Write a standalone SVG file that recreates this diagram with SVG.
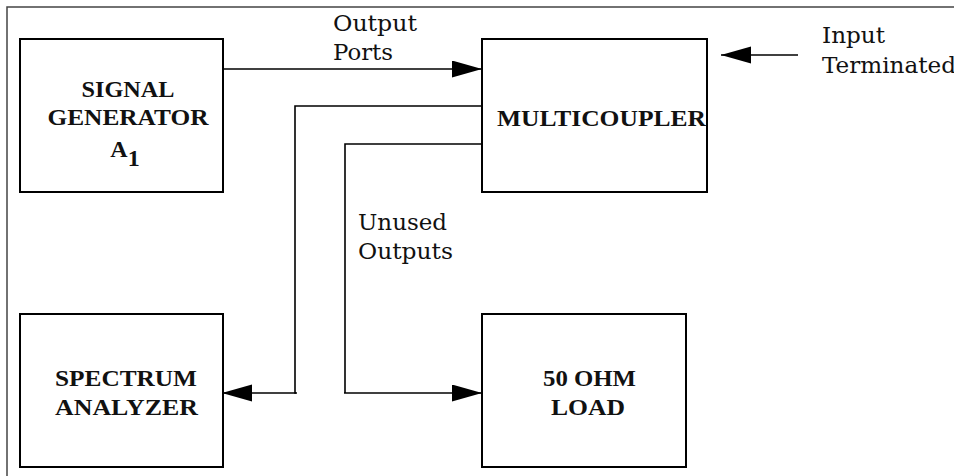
<svg xmlns="http://www.w3.org/2000/svg" width="954" height="476" viewBox="0 0 954 476">
<defs>
<style>
.box{fill:#fff;stroke:#000;stroke-width:2}
.lbl{font-family:"Liberation Serif","Times New Roman",serif;font-weight:bold;font-size:24px;fill:#111;text-anchor:middle}
.note{font-family:"DejaVu Serif","Liberation Serif",serif;font-size:22px;fill:#111}
.wire{fill:none;stroke:#000;stroke-width:1.6}
</style>
<marker id="ah" markerUnits="userSpaceOnUse" markerWidth="31" markerHeight="18" refX="30" refY="8.5" orient="auto">
<path d="M0,0 L30,8.5 L0,17 Z" fill="#000"/>
</marker>
</defs>
<rect width="954" height="476" fill="#fff"/>
<g id="frame">
<path d="M7,476 V7 H954" fill="none" stroke="#444" stroke-width="1.5"/>
</g>
<g id="connectors">
<line class="wire" x1="221" y1="69" x2="482" y2="69" marker-end="url(#ah)"/>
<line class="wire" x1="798" y1="55" x2="721" y2="55" marker-end="url(#ah)"/>
<polyline class="wire" points="485,106 295,106 295,393 297,393"/>
<line class="wire" x1="296" y1="393" x2="222" y2="393" marker-end="url(#ah)"/>
<polyline class="wire" points="485,144 345,144 345,393"/>
<line class="wire" x1="344" y1="393" x2="482" y2="393" marker-end="url(#ah)"/>
</g>
<g id="signal-generator">
<rect class="box" x="20" y="39" width="203" height="153"/>
<text class="lbl" x="128" y="97" textLength="93" lengthAdjust="spacingAndGlyphs">SIGNAL</text>
<text class="lbl" x="128" y="125" textLength="161" lengthAdjust="spacingAndGlyphs">GENERATOR</text>
<text class="lbl" x="125" y="157">A<tspan dy="9">1</tspan></text>
</g>
<g id="multicoupler">
<rect class="box" x="482" y="39" width="225" height="153"/>
<text class="lbl" x="601.5" y="126" textLength="209" lengthAdjust="spacingAndGlyphs">MULTICOUPLER</text>
</g>
<g id="spectrum-analyzer">
<rect class="box" x="20" y="314" width="203" height="153"/>
<text class="lbl" x="126" y="386" textLength="142" lengthAdjust="spacingAndGlyphs">SPECTRUM</text>
<text class="lbl" x="126.5" y="415" textLength="143" lengthAdjust="spacingAndGlyphs">ANALYZER</text>
</g>
<g id="load">
<rect class="box" x="482" y="314" width="204" height="153"/>
<text class="lbl" x="589.5" y="386" textLength="93" lengthAdjust="spacingAndGlyphs">50 OHM</text>
<text class="lbl" x="588" y="415" textLength="74" lengthAdjust="spacingAndGlyphs">LOAD</text>
</g>
<g id="labels">
<text class="note" x="333" y="31" textLength="84" lengthAdjust="spacingAndGlyphs">Output</text>
<text class="note" x="333" y="60" textLength="60" lengthAdjust="spacingAndGlyphs">Ports</text>
<text class="note" x="822" y="43" textLength="63" lengthAdjust="spacingAndGlyphs">Input</text>
<text class="note" x="822" y="73" textLength="134" lengthAdjust="spacingAndGlyphs">Terminated</text>
<text class="note" x="358" y="230" textLength="89" lengthAdjust="spacingAndGlyphs">Unused</text>
<text class="note" x="358" y="259" textLength="95" lengthAdjust="spacingAndGlyphs">Outputs</text>
</g>
</svg>
